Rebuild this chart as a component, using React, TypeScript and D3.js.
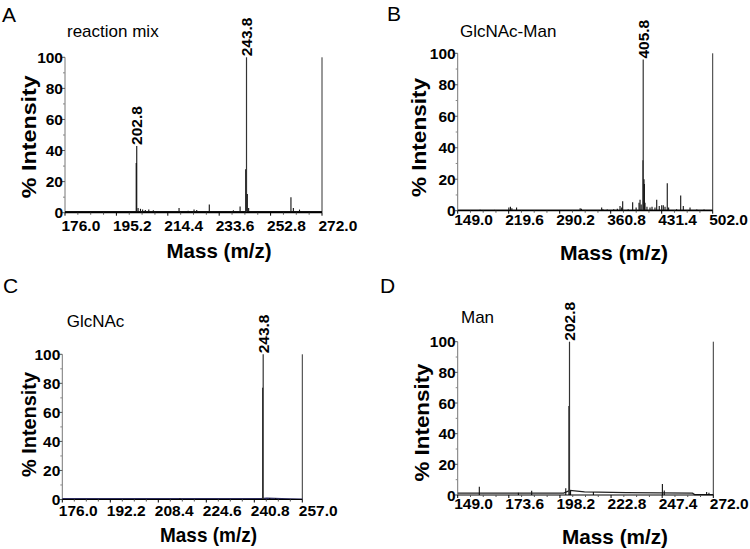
import React from 'react';
import * as d3 from 'd3';

const FONT = '"Liberation Sans", Arial, Helvetica, sans-serif';

// ---------- Panel A: reaction mix ----------
const massA = [178.5, 182.2, 185, 190, 196.5, 202.6, 202.8, 203.3, 204.2, 205, 206, 207.3, 209, 213.5, 218.6, 222, 224.2, 225.2, 226, 229.9, 236, 238.9, 241.4, 243.5, 243.8, 244.1, 244.6, 248, 255, 260.4, 261.3, 263.6, 267];
const intA = [1, 1, 0.8, 0.6, 0.8, 32, 43, 3, 2.5, 2, 1.8, 2, 1.5, 1, 3, 1.2, 2, 1.8, 1, 5.3, 1, 1.5, 4, 28, 100, 12, 3, 0.8, 0.8, 10, 3, 2, 0.8];
const baseA = [[176, 0.6], [272, 0.6]];
const ticksA = [176.0, 195.2, 214.4, 233.6, 252.8, 272.0];
const labelsA = [202.8, 243.8];

// ---------- Panel B: GlcNAc-Man ----------
const massB = [160, 180, 200, 219.8, 222, 224, 230.5, 250, 270, 300, 318.5, 320.3, 335, 348.3, 350, 356, 365, 370, 373.7, 376, 377.4, 385, 391.2, 396, 400, 401.4, 403, 405.5, 405.8, 406.9, 407.4, 408.3, 411, 415.2, 418, 422.1, 424.5, 428, 431.4, 433.6, 436, 439.1, 441, 452, 457.7, 461.3, 470.6, 480, 490];
const intB = [0.5, 0.6, 0.5, 2, 2.5, 1.5, 2, 0.5, 0.5, 0.5, 1.5, 1.2, 0.5, 2, 1, 0.8, 1, 1.2, 3, 2, 6, 1, 5.3, 2, 5, 7, 4, 32, 96, 20, 17, 5, 2.5, 2, 2.5, 2, 7, 3, 3.5, 3.5, 2.5, 17.5, 2, 1, 9.7, 3, 2, 0.8, 0.8];
const baseB = [[149, 0.4], [502, 0.4]];
const ticksB = [149.0, 219.6, 290.2, 360.8, 431.4, 502.0];
const labelsB = [405.8];

// ---------- Panel C: GlcNAc ----------
const massC = [215.7, 243.6, 243.8, 246, 248];
const intC = [0.8, 77, 100, 1, 0.8];
const baseC = [[176, 0.6], [243, 0.6], [245, 0.9], [250, 0.5], [257, 0.2]];
const ticksC = [176.0, 192.2, 208.4, 224.6, 240.8, 257.0];
const labelsC = [243.8];

// ---------- Panel D: Man ----------
const massD = [159.4, 178.2, 184.6, 201, 202.5, 202.8, 203.3, 214.3, 247.5, 248.4, 268.8, 269.9];
const intD = [5.4, 1.5, 2.8, 4.4, 58, 100, 3, 2, 7.2, 3, 2, 1.5];
const baseD = [[149, 1.2], [200, 1.2], [203, 3], [210, 2], [230, 1.5], [262, 1.2], [263, 0.3], [272, 0.3]];
const ticksD = [149.0, 173.6, 198.2, 222.8, 247.4, 272.0];
const labelsD = [202.8];

const yTicks = [0, 20, 40, 60, 80, 100];

type Panel = {
  letter: string; name: string;
  mass: number[]; inten: number[]; base: number[][]; ticks: number[]; labels: number[];
  x0: number; x1: number; yTop: number; yBot: number;
  letterPos: [number, number]; namePos: [number, number];
  tickBase: number; yTitle: [number, number, number]; xTitle: [number, number, number];
  baseColor: string;
};

const panels: Panel[] = [
  { letter: 'A', name: 'reaction mix', mass: massA, inten: intA, base: baseA, ticks: ticksA, labels: labelsA,
    x0: 65, x1: 322, yTop: 57.3, yBot: 212.7, letterPos: [2, 22], namePos: [67, 36.7], tickBase: 230.5,
    yTitle: [28, 136.7, 123], xTitle: [219, 258, 105], baseColor: '#111' },
  { letter: 'B', name: 'GlcNAc-Man', mass: massB, inten: intB, base: baseB, ticks: ticksB, labels: labelsB,
    x0: 457.7, x1: 712.7, yTop: 53.3, yBot: 210.7, letterPos: [387, 21], namePos: [460, 36.7], tickBase: 225,
    yTitle: [418, 137.5, 119], xTitle: [614, 260, 108], baseColor: '#111' },
  { letter: 'C', name: 'GlcNAc', mass: massC, inten: intC, base: baseC, ticks: ticksC, labels: labelsC,
    x0: 62.3, x1: 302.3, yTop: 354.3, yBot: 499.5, letterPos: [3, 293], namePos: [66.7, 326.7], tickBase: 515.5,
    yTitle: [28, 424.5, 105], xTitle: [208.5, 542, 97], baseColor: '#2b2b5e' },
  { letter: 'D', name: 'Man', mass: massD, inten: intD, base: baseD, ticks: ticksD, labels: labelsD,
    x0: 457.7, x1: 713.3, yTop: 341.7, yBot: 495, letterPos: [380, 293], namePos: [461, 323.3], tickBase: 509,
    yTitle: [421.7, 422.5, 118], xTitle: [615, 544, 106], baseColor: '#222' },
];

function PanelView({ p }: { p: Panel }) {
  const dom = [p.ticks[0], p.ticks[p.ticks.length - 1]];
  const x = d3.scaleLinear().domain(dom).range([p.x0, p.x1]);
  const y = d3.scaleLinear().domain([0, 100]).range([p.yBot, p.yTop]);
  const line = d3.line<number[]>().x(d => x(d[0])).y(d => y(d[1]));
  const step = p.ticks[1] - p.ticks[0];
  const minor: number[] = [];
  for (let i = 0; i < p.ticks.length - 1; i++) {
    for (let k = 1; k < 4; k++) minor.push(p.ticks[i] + (step * k) / 4);
  }
  const yMinor = d3.range(10, 100, 10).filter(v => v % 20 !== 0);
  return (
    <g>
      <text x={p.letterPos[0]} y={p.letterPos[1]} fontSize={21} fontFamily={FONT}>{p.letter}</text>
      <text x={p.namePos[0]} y={p.namePos[1]} fontSize={17} fontFamily={FONT}>{p.name}</text>
      {/* y axis */}
      <line x1={p.x0} x2={p.x0} y1={y(0)} y2={y(100)} stroke="#777" strokeWidth={1} />
      {yTicks.map(t => (
        <g key={'yt' + t}>
          <line x1={p.x0 - 3} x2={p.x0} y1={y(t)} y2={y(t)} stroke="#555" />
          <text x={p.x0 - 2} y={y(t)} dy="0.36em" textAnchor="end" fontSize={15.5} fontWeight="bold" fontFamily={FONT}>{t}</text>
        </g>
      ))}
      {yMinor.map(t => (
        <line key={'ym' + t} x1={p.x0 - 2} x2={p.x0} y1={y(t)} y2={y(t)} stroke="#888" />
      ))}
      {/* right frame */}
      <line x1={p.x1} x2={p.x1} y1={y(0)} y2={y(100)} stroke="#333" strokeWidth={1} />
      {/* baseline trace */}
      <path d={line(p.base) || ''} fill="none" stroke={p.baseColor} strokeWidth={1.3} />
      {/* peaks */}
      {p.mass.map((m, i) => (
        <line key={'pk' + i} x1={x(m)} x2={x(m)} y1={y(0)} y2={y(p.inten[i])}
          stroke={p.inten[i] > 50 ? '#333' : '#111'} strokeWidth={p.inten[i] > 50 ? 1.2 : 1.1} />
      ))}
      {/* x axis */}
      <line x1={p.x0} x2={p.x1} y1={y(0)} y2={y(0)} stroke="#000" strokeWidth={1.2} />
      {p.ticks.map(t => (
        <g key={'xt' + t}>
          <line x1={x(t)} x2={x(t)} y1={y(0)} y2={y(0) + 3} stroke="#000" />
          <text x={x(t) - 3.5} y={p.tickBase} fontSize={15.5} fontWeight="bold" fontFamily={FONT}>{t.toFixed(1)}</text>
        </g>
      ))}
      {minor.map((t, i) => (
        <line key={'xm' + i} x1={x(t)} x2={x(t)} y1={y(0)} y2={y(0) + 2} stroke="#555" />
      ))}
      {/* peak labels */}
      {p.labels.map(m => {
        const idx = p.mass.indexOf(m);
        const v = p.inten[idx];
        return (
          <text key={'lb' + m} transform={`translate(${x(m)},${y(v) - 1}) rotate(-90)`} dy="0.36em"
            fontSize={15.5} fontWeight="bold" fontFamily={FONT}>{m.toFixed(1)}</text>
        );
      })}
      {/* axis titles */}
      <text transform={`translate(${p.yTitle[0]},${p.yTitle[1]}) rotate(-90)`} textAnchor="middle" dy="0.36em"
        fontSize={21} fontWeight="bold" fontFamily={FONT} textLength={p.yTitle[2]} lengthAdjust="spacingAndGlyphs">% Intensity</text>
      <text x={p.xTitle[0]} y={p.xTitle[1]} textAnchor="middle" fontSize={21} fontWeight="bold" fontFamily={FONT}
        textLength={p.xTitle[2]} lengthAdjust="spacingAndGlyphs">Mass (m/z)</text>
    </g>
  );
}

export default function App() {
  return (
    <svg width={750} height={549} style={{ position: 'absolute', left: 0, top: 0, background: '#fff' }}>
      <rect width={750} height={549} fill="#fff" />
      {panels.map(p => <PanelView key={p.letter} p={p} />)}
    </svg>
  );
}
